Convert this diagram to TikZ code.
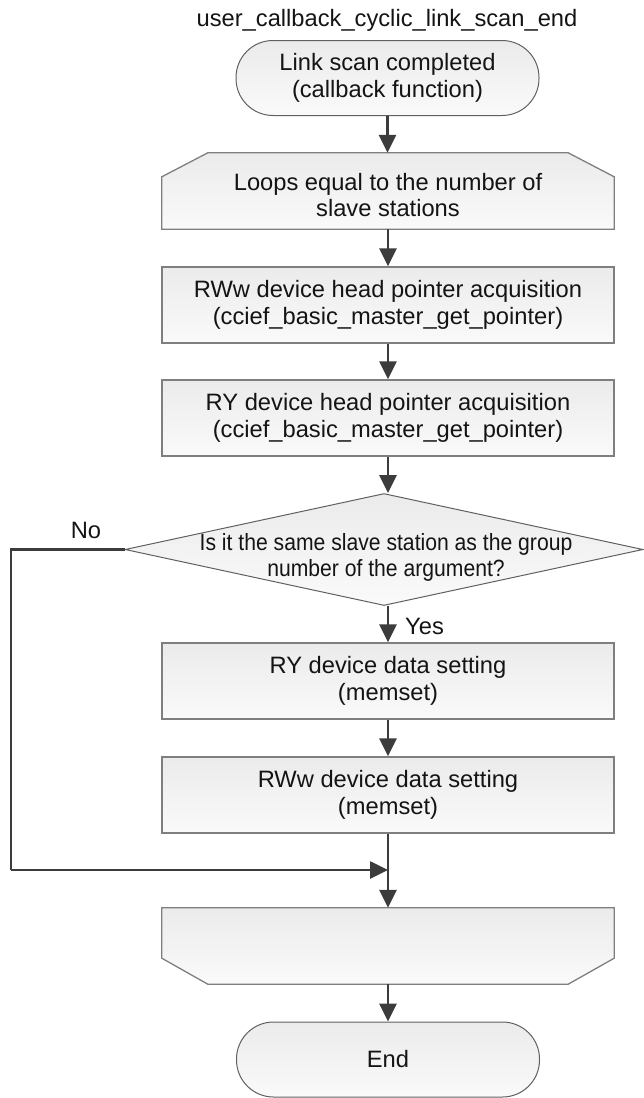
\documentclass[tikz,border=0pt]{standalone}
\usepackage{fontspec}
\setmainfont{Liberation Sans}
\newfontfamily\narrowsans[FakeStretch=0.9]{Liberation Sans}
\usetikzlibrary{arrows.meta,calc,shapes.geometric}

\definecolor{lineC}{HTML}{3C3C3C}
\definecolor{borderC}{HTML}{7F7F7F}
\definecolor{edgeC}{HTML}{606060}
\definecolor{fillTop}{HTML}{EBEBEB}
\definecolor{fillBot}{HTML}{FAFAFA}
\definecolor{textC}{HTML}{141414}

\newcommand{\labelfont}{\fontsize{23.7pt}{26.5pt}\selectfont}
\newcommand{\condfont}{\narrowsans\fontsize{23.5pt}{26pt}\selectfont}

\tikzset{
  shaded/.style={top color=fillTop, bottom color=fillBot},
  procbox/.style={shaded, draw=borderC, line width=1.3pt, rectangle,
    minimum width=452pt, minimum height=76pt, inner sep=0pt,
    align=center, font=\labelfont, text=textC},
  termbox/.style={shaded, draw=edgeC, line width=1pt, rectangle,
    rounded corners=37pt, minimum width=303pt, minimum height=75pt,
    inner sep=0pt, align=center, font=\labelfont, text=textC},
  loopframe/.style={rectangle, minimum width=452pt, minimum height=76pt,
    inner sep=0pt, align=center, font=\labelfont, text=textC},
  loopedge/.style={shaded, draw=borderC, line width=1.3pt},
  decision/.style={diamond, shaded, draw=edgeC, line width=1pt,
    minimum width=518pt, minimum height=112pt, inner sep=0pt},
  plain/.style={inner sep=0pt, font=\labelfont, text=textC},
  conn/.style={draw=lineC, line width=2.7pt,
    -{Triangle[length=18pt,width=17pt]}},
  rail/.style={draw=lineC, line width=2.7pt},
}

\begin{document}
\begin{tikzpicture}[x=1pt,y=-1pt]
\useasboundingbox (0,0) rectangle (643,1098);

% heading
\node[plain] (title) at (387,20) {user\_callback\_cyclic\_link\_scan\_end};

% start terminal
\node[termbox] (start) at (387.5,78) {Link scan completed\\(callback function)};

% loop start: top corners cut
\node[loopframe] (loop) at (388,191) {};
\path[loopedge] (loop.south west) -- ($(loop.north west)+(0,24)$)
  -- ($(loop.north west)+(46,0)$) -- ($(loop.north east)+(-46,0)$)
  -- ($(loop.north east)+(0,24)$) -- (loop.south east) -- cycle;
\node[loopframe] (looptext) at (388,195) {Loops equal to the number of\\slave stations};

% pointer acquisition
\node[procbox] (rww) at (388,305) {RWw device head pointer acquisition\\(ccief\_basic\_master\_get\_pointer)};
\node[procbox] (ry) at (388,418) {RY device head pointer acquisition\\(ccief\_basic\_master\_get\_pointer)};

% decision
\node[decision] (dec) at (384,549.5) {};
\node[inner sep=0pt, align=center, font=\condfont, text=textC] (dectext) at (386,557)
  {Is it the same slave station as the group\\number of the argument?};

% data setting
\node[procbox] (ryd) at (388,681) {RY device data setting\\(memset)};
\node[procbox] (rwwd) at (388,795) {RWw device data setting\\(memset)};

% loop end: bottom corners cut
\node[loopframe] (loopend) at (388,946) {};
\path[loopedge] (loopend.north west) -- ($(loopend.south west)+(0,-26)$)
  -- ($(loopend.south west)+(46,0)$) -- ($(loopend.south east)+(-46,0)$)
  -- ($(loopend.south east)+(0,-26)$) -- (loopend.north east) -- cycle;

% end terminal
\node[termbox] (end) at (388,1059.5) {End};

% labels
\node[plain] (nolabel) at (86,530) {No};
\node[plain, anchor=west] (yeslabel) at (405,626) {Yes};

% helper points for the bypass route
\coordinate (join) at (388,870);
\coordinate (railx) at (11,0);

% connectors
\draw[conn] (start.south) -- (start.south |- loop.north);
\draw[conn] (loop.south) -- (rww.north);
\draw[conn] (rww.south) -- (ry.north);
\draw[conn] (ry.south) -- (ry.south |- dec.north);
\draw[conn] (ryd.north |- dec.south) -- (ryd.north);
\draw[conn] (ryd.south) -- (rwwd.north);
\draw[conn] (rwwd.south) -- (loopend.north);
\draw[rail] (dec.west) -- (dec.west -| railx) -- (railx |- join);
\draw[conn] (railx |- join) -- (join);
\draw[conn] (loopend.south) -- (end.north);
\end{tikzpicture}
\end{document}
